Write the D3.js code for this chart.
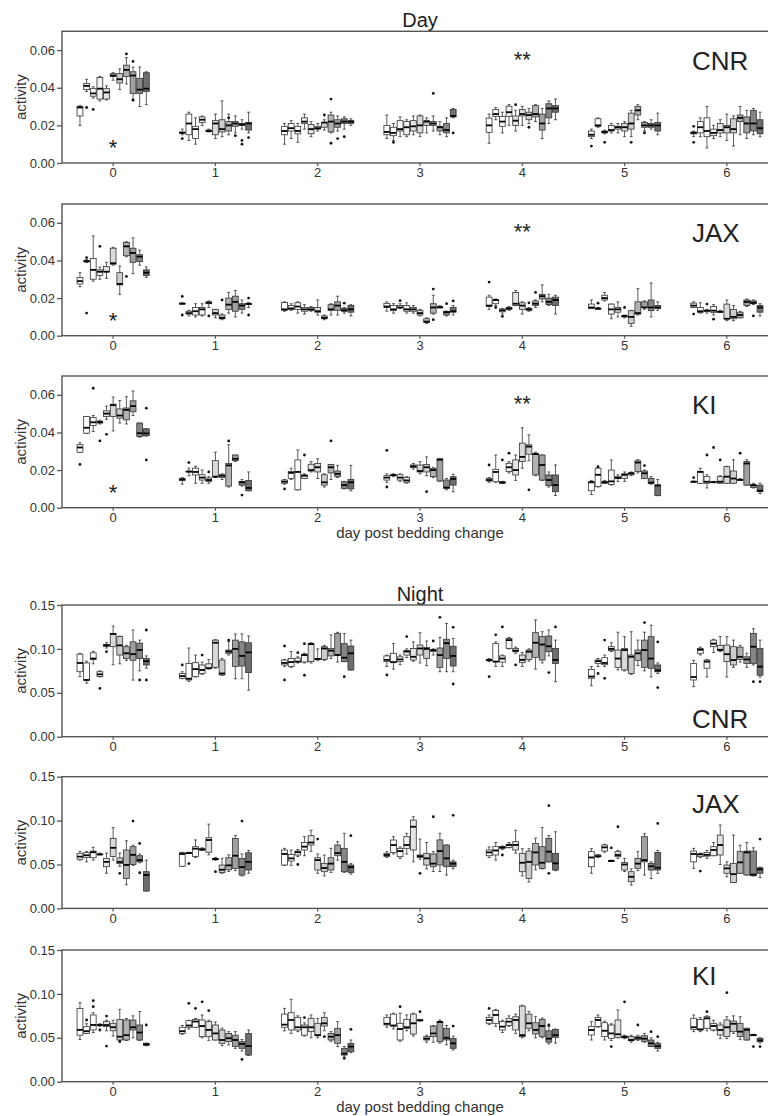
<!DOCTYPE html>
<html><head><meta charset="utf-8">
<script src="https://cdn.jsdelivr.net/npm/d3@7"></script>
<style>body{margin:0;background:#fff}svg text{font-family:"Liberation Sans",Arial,sans-serif}</style>
</head><body><svg id="c" width="768" height="1116"></svg>
<script>
const days = ["0","1","2","3","4","5","6"];
const groups = ["1","2","3","4","5","6","7","8","9","10","11"];
const groupFills = ["#ffffff","#ffffff","#fbfbfb","#f2f2f2","#e4e4e4","#d9d9d9","#cdcdcd","#b2b2b2","#a0a0a0","#868686","#6e6e6e"];
const dayTicks = [0, 0.02, 0.04, 0.06];
const nightTicks = [0, 0.05, 0.10, 0.15];
// values in units of 0.001; each box: [low whisker, q1, median, q3, high whisker, ...outliers]
const dayCNR = [
 [[20,25,29.5,30,30.5],[38,39,41,42.3,44.5,29.5],[34.5,35.5,37,39.5,40.5,28.5],[33,34,39.5,45.5,46],[33.5,34,37.5,39.5,41],[44,46,46.5,47.5,48],[39,42.5,44.5,47.5,50],[42,46,49.5,52,56,58],[33,37,46.5,48.5,51,33.5,54],[30,37,39,45,51],[31,38,39.5,48,48.5]],
 [[15,16,16,16.5,18,13],[12,15,21,26,27],[10,13,18,19.5,24],[20,21.5,23,24.5,25],[16.5,16.8,17,17.5,18],[13,15,21,22.5,26],[14,16.5,18,23,33],[15,17,20,22,26,24],[16,19.5,21,22,25,14.5],[18,20,20.5,21,23,12,10],[16,17.5,21,21.5,27,13.5]],
 [[10,15,17,19.5,21],[13,17,18.5,21,22.5],[11,15.5,17,19.5,21],[18,21,22,24,26],[14,15.5,18,20.5,22],[17,18,18.5,19.5,21],[17.5,19,21.5,21.5,23,25.5],[16,16.5,22,25.5,27,34,10.5],[17,19,21,23,25,13],[18,21,22,23.5,24.5,14],[20,21,22,22.5,23.5]],
 [[13,15,16.5,20,25.5],[12,14.5,16,19,21,11],[14,17,18,22.5,24.5],[14,15,19,22,23],[15,17,19.5,22.5,25],[14,16,20,25,25.5],[16,20,22,22.5,24],[17,20,21,22,25,37],[15,17,19,19.5,22],[14,16,17.5,21,24],[24,24.5,25,28.5,29,16]],
 [[10.5,16.3,20,23.9,26],[23,24.8,26,28.4,29.5],[16,19.5,22,24.8,27],[20,24.8,27,30.2,31],[17,20,22.5,25,28,31],[20,25,26,28.5,30],[21,23,25.5,27,29,19],[22,24.5,26,30.5,31],[13,17.5,21,26,29],[21,24,29,31.5,33],[23,27,29,30.5,34]],
 [[13,14,15,17,18,9],[19,19.5,20,23.5,24],[15.5,16,16.5,17,17.5,11],[16,17,17.5,20,21],[16,18,19,19.5,21],[14,17,19,21,22],[14,18,21,26.5,28,11],[23,25.5,28,30,31],[17,19,20,21.5,22,16],[18,19,20,21,23],[15,17,20,21.5,26.5]],
 [[14,15.5,16,16.5,17,19.5,11],[14,16,19,22,24],[8,14,17,24,30],[13,14.5,16,18,20],[14,16,17.5,21,23],[12,16,19,20,26],[9,16,18,23.5,25],[15,22,24,25.5,30],[13,16,21,24.5,28],[15,17,21,28,29],[14,15.5,18.5,23,27]]
];
const dayJAX = [
 [[26,27.5,29,31,33.5],[39,39.5,39.5,40,40.5,41.5,12],[29,30,35,41,53],[30,32,34,35,36.5,47.5],[30.5,34,34,36.8,39],[37.5,38,38.5,46.5,47],[22,27,27.5,33.5,37],[42,42.5,47.5,49.5,50,31.5],[33,39,44,46.5,52],[37.5,39.5,42,43,45.5],[31,32,33.5,35,36.5]],
 [[17,17,17,17.3,17.5,20.9,11],[10.5,11.5,12,13,13.5],[10,11,13,15,17],[10.5,11,14,15,17],[15,17,17.5,18,18.5,10.5],[9.5,11,12,14,14],[8.5,9,9.5,11,11.5,19],[12,14,16.5,20,23],[10,13,18,21,24],[12,14,16,17,19],[15,16.5,17,17,17.5,20,11]],
 [[13,13.5,14,17.7,18],[13.5,14,14.5,16,17],[12,14,15.5,17.5,18],[11.5,13,14,15,16.5],[13,13.5,14,15,15.5],[11,12.5,13,15,19],[8.5,9,9.5,10.5,11],[11,13.5,14,16.5,17],[11,13.5,16,18,21],[12,13,13.5,14.5,15,17.3],[10.5,12.5,14,16,16.5]],
 [[13,15,15.5,17.2,18],[12,13.3,14,16,17],[14.5,15,15,16,17,18.6],[12,13,14,16,17.5],[12,13,14,15,16],[10.5,11,12,13.5,14],[6.5,7,7.5,9,9.5],[11.5,12,15,17,21.5,24.8,8.5],[15,15,15,15.5,16],[10.5,11,12.5,13,13,17],[11,12.5,13,15,16,18.5]],
 [[14,15.5,16,20.5,21.5,28.5],[16,17,19,19,19.5,15],[11.5,12.7,13.5,14.2,14.5,10.3],[13.5,14,14.5,15,15.5],[16,16,17,23,24],[11.5,14,16,17.5,18],[13,13.5,14,14.5,15,17.5],[15,16,17,18.5,19,23],[18,19.5,21,22,27],[16,16.5,18,20,22],[11.5,16,19,20.5,21.5]],
 [[14.5,14.5,15,16.8,19],[14,14,14.5,14.5,15,17.3],[18.5,19,20,21.5,23],[9,11.5,14,16.8,16.8],[10,12.5,14,15,18],[9.5,10,10.5,10.5,11,15],[5,6.5,10,13.3,13.5],[11,11.5,12,18,25],[14,15,15,18,18.5],[10,13.3,15,19,28],[13.5,14.5,15,16,18]],
 [[15,15,16,17.3,18,11.5],[12,12.4,13,15,17.5],[12,13,13.3,13.5,14,16.8],[11,12.4,13.3,15.5,16.5,8.8],[12.5,12.5,12.7,13,13.5],[8,9,9,16.8,19],[8,9,10,14,16],[9.5,9.5,11,12.5,13],[15.5,16,18,19,19.5],[16.5,17,17.5,18.5,19,10.5],[10.5,12.5,15,16,17]]
];
const dayKI = [
 [[29.5,29.5,32,33.5,34.5,23],[39.5,39.6,42.5,48.5,48.5],[40.5,43.7,45.4,48,49,63.5],[44.5,45,45.5,46,46.5,35.5],[47,48.5,50,51.5,54,39],[40.8,48.5,54.5,55,58.8],[45,47.6,49,52.5,57],[44.5,46.7,52,53,59],[49,51,54,56.8,62],[37.5,37.8,39.6,45,45],[38,38.3,39.5,41.9,42,52.9,25.4]],
 [[12.5,14.5,15,15.6,16],[17,19,19.2,19.4,21,24],[13,17.4,19,21,22],[13,14.7,16,17.5,20],[13,14,14.7,15.8,16.5,19],[16,16.5,16.5,25,29.5],[15,16,17,17.5,18],[11,11.5,22.5,23.5,33.5,35.5],[24.5,25,26,28,28],[11.5,12,13.5,14,15,6.7],[9,9,10.5,14.5,19]],
 [[12.5,13,13.8,14.7,15,10],[15,15.6,18.5,19.2,21],[9.5,9.5,19,25.4,30.7],[15.5,15.6,17,17.4,18,28],[19,19.5,20,23.1,24.5],[15.5,19,21.5,23.5,26],[11,12,13.5,17.5,18],[15,18.5,21.5,23,23,35.5],[16,16.5,18,19.5,22.5],[10,10.3,12,13.8,14],[9,10,13.5,15,22.5]],
 [[13.5,14.7,16,17,18,30.5,11],[16.5,17,17.4,17.4,18],[14,14.7,16,17.5,18],[13,13.5,14.5,16,16.5],[20.5,21.3,22,22.7,23.5],[18,19,19.5,22.7,24.5],[17,19,21.5,23,27,8.5],[16,16.5,20,20.8,21.5],[14,14.2,25.5,26,26],[9.5,10.3,10.7,14.7,15.5],[8.5,12,15.3,16.5,17.8]],
 [[13.5,14.2,14.7,15.6,16,22.7],[13.5,13.8,19,20.4,28],[13,13,13.4,13.8,14,25.4],[18.5,19.2,21.5,23.6,24.5,29],[14.5,17.4,20,25.4,28],[21,24.5,27,34.3,42.5],[25,28.4,32.5,33.4,38.7,9.5],[17,17.4,28.5,28.9,29.5],[14.5,14.7,22.7,28,28],[11,11.7,14.7,17.4,19],[6.5,8.5,12,17.4,22.7]],
 [[7,9,13.5,13.8,14.5],[11,11.2,17.5,21,21.3,21.8],[13,13,13.5,14,14.5],[12,12.4,14,20,25.4],[14,15.5,15.8,16.5,17.5],[14,15.5,17.5,18,19],[17,17.5,18.3,18.5,19],[18.5,19.2,24,24.9,25.5],[15.5,15.6,18.3,19.5,20,22.4],[12.5,13,13.3,15.6,16.5],[6.4,6.4,11.8,12.1,15]],
 [[13.5,13.6,13.8,14,14.2,16],[13,13,19,19.2,21],[10.5,13,13.8,16.5,17.5,28],[13.2,13.5,13.6,13.8,14,32],[13,13,13.8,16.5,17,25.4],[13,13,16.5,21.8,22],[13,13,15.5,19.5,25.5],[14.5,14.7,14.8,15,15.5,29],[12,12,23.5,24.5,25.5],[10.5,10.7,12,12.1,13],[7.5,8.5,9,12,13]]
];
const nightCNR = [
 [[68.5,74,84,94,95],[61,64.5,64.6,84,86],[83,88,89,95.5,97],[68,68.5,71,74,75,55],[101,103,104,105,107,96.8],[82,102.5,117,117.5,126],[83,93,104,114,114.5],[87,89,95,102.5,104],[64.5,87,94,108,121.5],[75,89,98.7,106.5,110,64.6],[78,81.7,86,89.2,92,121.5,64.6]],
 [[66,66.5,69,72,74,81.7],[63,64.6,66,83.5,101],[68,68.4,77,84.3,93],[71,72,76,81.7,85,93],[77,78,78,83,88],[78,79,107,110,110.5],[70,70.3,72,87.3,89],[93,95,97,98.7,108.5,110],[66,80,100,110,117],[66,80.5,92,108,117],[53,73,96,107,114.7]],
 [[80,81.7,84,87.3,88,103.3,64.6],[79,80,85,89,97],[84,85.5,85.5,89.5,91,95.7],[84,85,93,94,95,106,70],[84,85.5,105.5,106,107],[87,88,88.5,89,100],[87,88,100.5,102.5,104],[89,92,98,100.5,116],[85,93,93,117.7,118.9],[85.5,85.5,90,106,117.5,68.4],[76,76,95,103.3,110]],
 [[80,85.5,87.5,92,93,70.3],[77,84.3,85,95,106],[82,85.5,88,91,93],[90,93,97,98,100,114],[86,87.3,91,100.5,108],[84,93,100.5,104.4,118.5],[81,89,100,101.5,109],[93,97,98.7,98.7,100,109],[74,79,93,101,113,136],[74,89,106.5,111,129],[74,80.5,92,103,112,124.6,60]],
 [[85.5,87,87.3,87.5,89,68.4],[80,85.5,85.5,106,108,116],[80,85,89,92,93,125],[100,100.6,110,112,113],[95,96.8,98,100.6,102,81.7],[80,84.3,87.5,93,96],[86,88,96.8,98.7,100],[77,90.4,107,118.5,133],[84,87.3,105,114,119.6],[92,96.8,103,114.7,121.5,73],[62.7,83.5,87.5,100.6,110,125]],
 [[58,66.5,68.5,76.7,80],[80,83.5,86,87.3,89,72],[80,82,84,90,93,110,66.5],[97,98,100,102.5,107],[76,79,89,98.7,119],[75,76,98.7,100.6,114],[71,72,91,93,119.6],[81,87,95,98.7,110],[75,79,98.7,110,119,130],[68,77.9,89,114,127],[72,74,75.5,81.7,84,108,56]],
 [[57,64.6,68,83.5,87],[93,95,99,100.6,102],[68,78,85.5,87.3,88],[96,102.5,106,110,111],[97,98,99,104,114],[68,85.5,94,104.4,114],[79,81.7,87.3,102.5,110],[85,88,91,102,104],[79,83.5,88,91,95],[81.7,83.5,102.5,117.7,123,62.7],[68,70,79.8,100.6,110,62.7]]
];
const nightJAX = [
 [[55,56,59,62.7,65],[53,58,60.5,63.5,65],[55,57.7,64,65.3,69.5],[61,61.3,61.5,62,63],[40,47.5,53,57,63],[55,59,69,79.8,92],[48,51,53,57.5,63,40],[27,34,49.5,66.5,77],[49,50,61,70.3,72,99.5],[52,53,55,60,62,74,40.6],[19.8,19.8,38,41.8,55]],
 [[48,48,62,63.5,64],[62.5,62.7,63,63.5,64,51],[58,59,68,70.3,78],[66,66.5,67.2,68,69],[61,64,77.9,80.5,96],[55,55.5,56.2,57,58,41.8],[40,41,44,49.4,57],[42,44,49,57.7,61],[43,45.6,60,79.8,83],[37,38,47,57,62,99.5],[40,43.7,53,63.4,66]],
 [[49,49.4,62,66.5,68.4],[49,54,57,61.5,66.5],[59,60.8,64,65.3,67,50],[60,66.5,70.3,75.2,81.7],[65,72.2,75,82.8,89],[40,43.7,55,57.7,62,79],[37,41.8,46,51.3,60.8],[41,43.7,51,57.7,68.4],[55,60,63,72.2,76],[41,41.8,53,68.4,85.5],[39,41,47,49.4,51,82.8]],
 [[58,59,60.8,62.7,64.6],[62,63.8,72.2,77.9,81.7],[57,58.9,65.3,68.4,70],[62,68.4,72.2,81.7,85.5],[53,66.5,93,100.6,104.4],[56,58,59.5,60.8,79,40],[45,49.4,57,62.7,75],[42,47.5,51,62,64.6,104.4],[42,49.4,65.3,78,85.5],[38,47.5,57,72.2,72.2],[45,47.5,51,53,55,106]],
 [[58,60,63.8,66.5,70],[55,60.8,66,70.3,75],[67,68.4,69.5,70.3,71,60.8],[69,69.5,72.2,73,75],[63,66.5,72.2,76,89],[37,41.8,52,62.7,68],[30,34,53,65.3,68],[44,49.4,63.8,74,80],[45,45.6,52,70.3,92],[53,53,64.6,79.8,83,117,40],[43,43.7,51.3,62.7,87.3]],
 [[40,47.5,58,64.6,68],[58,58.9,59.5,60.8,61.5],[64,65.3,69.5,72.2,73],[53.5,53.5,54,54.5,55,69],[57,58.9,60.8,64.6,66,93],[42,43.7,50,52.4,57],[26.6,30.4,36,41.8,45],[43,45.6,51,57,64.6],[38,53,55,81.7,85],[34,43.7,48,51.3,53],[40,43.7,46.3,63.8,66,96.8]],
 [[45.6,53,62,65.3,68.4],[58,58.9,61.5,62,63,42.5],[57,59.5,61,63.8,66],[60,60,66.5,70.3,75],[50,60.8,72.2,83.5,95],[36,40,45.6,49.4,53],[29.6,29.6,39,51.3,83.5],[40,40,52.4,64.6,72],[38,38,63.8,65.3,75],[37,37.2,38.5,65.3,69],[35,40,44.5,46.3,47,79]]
];
const nightKI = [
 [[48,53,59,83.5,90],[55,55,57.5,62.7,66,70.3],[56,58.9,64.6,76,78.6,85.5,92.3],[63,64,64.6,65,66,58.9],[58,62.7,64.5,68.4,70,74.8,40.6],[52,58,62,66.5,70],[47,47.5,51.3,71,82.4,45.6],[47,47.5,53,70.3,72],[50,58.9,62,70.3,75],[47,47.5,56,64.6,79.8],[41,41.5,42.5,43.7,44,64.6]],
 [[54,55,57.5,62,64],[60,62,64,69.5,70,89.3],[62,62,68.5,71,72,83.5],[50,51.3,63.4,70.3,76,91],[47,51.3,59,68.4,70,81],[47.5,47.5,55,64.6,68],[41,43.7,47.5,58.9,61],[42,45.6,49.5,55,57],[38,40,47.5,53,57],[35,38,43,45.6,48,25.4],[30,30.4,40.6,55,58.9]],
 [[58,62,65,77,83.5],[55,58.9,70.3,78.6,93.8],[57,58.9,62,73.3,75],[52,53,62,64.6,67,73],[50,57,62,72.2,76],[50,52.4,53,66.5,72],[58,63.4,66.5,73.3,78.6,51.3],[46,47.5,51.3,55,57],[40,43.7,53,60.8,68.4],[29,30.4,32,38,40,26.6],[33,34.2,40,43.7,47.5,59.6]],
 [[62,64.6,66,73.3,76],[60,63.4,64,77,78],[46,47.5,60,66.5,78,85.5],[58,60.8,62,71,76],[52,54.3,66.5,77,78],[69,69.5,70,70.3,71,79.8],[45,47.5,49,51.3,53],[45,51.3,55,63.4,64],[44,45.6,68,68.4,70.3],[42,47.5,50,60.8,64],[36,38,43.7,49.4,52,63.4]],
 [[65,66.5,70.3,73.3,76,83.5],[63,66.5,76,81,82.4],[56,58.9,62.7,68.4,70],[63,64,68.4,72,75],[55,58.9,70.3,74,77],[50,51.3,53,86.2,87],[58,60.8,66.5,77,80],[50,54.3,59,67.2,74],[50,51.3,63.4,71,72.5],[43,45,49,58,63,64.6],[44,50.5,53,59.6,60]],
 [[47.5,53.2,58.9,62.7,68.4],[62,62.7,70.3,73.3,76],[47.5,51.3,58,67.2,69],[47,49.4,55,64.6,66,40],[50,50.5,54,70.3,81.7],[49,50,51,52,53,91],[45,46.7,47.5,51.3,53],[47,48,50,51,53,64.6],[45,46,49,52.4,55],[40,40,43.7,47.5,50,57],[35,38,40.5,43.7,45,51.3]],
 [[57,59.6,62,72.2,76],[57,58.9,59.6,71,73],[58,60.8,72.2,74,75,79.8],[58,58.9,63.5,66.5,70],[49,53.2,58.9,64.6,67],[49,51.3,62,70.3,74,101.4],[55,57,66,69,75],[48,51.3,57,66.5,74],[47.5,47.5,59,60.8,61],[52.5,53,53.2,53.5,54,40],[44,45.6,47,49.4,50,40]]
];
const panelNames = ["CNR","JAX","KI","CNR","JAX","KI"];
const sectionTitles = ["Day","Night"];
const starMarks = [{day:"0", text:"*", value:0.011},{day:"4", text:"**", value:0.058}];

const svg = d3.select("#c");
const FONT = '"Liberation Sans", Arial, sans-serif';
const left = 62, plotW = 716, plotH = 131.7;
const x = d3.scaleBand().domain(days).range([left, left + plotW]);
const xg = d3.scaleBand().domain(groups).range([-36.5, 36.5]);
const fill = d3.scaleOrdinal().domain(groups).range(groupFills);

const panels = [
 {data: dayCNR, name: panelNames[0], top: 31.3, max: 0.07, ticks: dayTicks, labelY: 70, stars: true},
 {data: dayJAX, name: panelNames[1], top: 204, max: 0.07, ticks: dayTicks, labelY: 242, stars: true},
 {data: dayKI, name: panelNames[2], top: 376, max: 0.07, ticks: dayTicks, labelY: 414, stars: true, xTitle: true},
 {data: nightCNR, name: panelNames[3], top: 605, max: 0.15, ticks: nightTicks, labelY: 728},
 {data: nightJAX, name: panelNames[4], top: 776.7, max: 0.15, ticks: nightTicks, labelY: 813},
 {data: nightKI, name: panelNames[5], top: 950, max: 0.15, ticks: nightTicks, labelY: 985, xTitle: true}
];

svg.append("text").attr("x", left + plotW/2).attr("y", 26.5).attr("text-anchor","middle")
  .attr("font-size", 20).attr("fill","#222").text(sectionTitles[0]);
svg.append("text").attr("x", left + plotW/2).attr("y", 600.5).attr("text-anchor","middle")
  .attr("font-size", 20).attr("fill","#222").text(sectionTitles[1]);

panels.forEach(p => {
  const y = d3.scaleLinear().domain([0, p.max]).range([p.top + plotH, p.top]);
  const g = svg.append("g");
  g.append("rect").attr("x", left).attr("y", p.top).attr("width", plotW).attr("height", plotH)
    .attr("fill","none").attr("stroke","#555").attr("stroke-width",1.4);

  const ya = g.append("g").attr("transform",`translate(${left},0)`)
    .call(d3.axisLeft(y).tickValues(p.ticks).tickFormat(d3.format(".2f")).tickSize(5).tickPadding(2));
  ya.select(".domain").remove();
  ya.selectAll("line").attr("stroke","#555").attr("stroke-width",1.3);
  ya.selectAll("text").attr("font-size",13).attr("fill","#333").attr("font-family",FONT);

  const xa = g.append("g").attr("transform",`translate(0,${p.top + plotH})`)
    .call(d3.axisBottom(x).tickSize(3).tickPadding(2));
  xa.select(".domain").remove();
  xa.selectAll("line").attr("stroke","#555").attr("stroke-width",1.2);
  xa.selectAll("text").attr("font-size",13).attr("fill","#333").attr("font-family",FONT);

  g.append("text").attr("transform",`translate(26,${p.top + plotH/2}) rotate(-90)`)
    .attr("text-anchor","middle").attr("font-size",15).attr("fill","#333").text("activity");

  if (p.xTitle) {
    g.append("text").attr("x", left + plotW/2).attr("y", p.top + plotH + 30)
      .attr("text-anchor","middle").attr("font-size",15).attr("fill","#333").text("day post bedding change");
  }

  g.append("text").attr("x", 692).attr("y", p.labelY).attr("font-size", 26).attr("fill","#222").text(p.name);

  const bw = xg.bandwidth();
  p.data.forEach((dayBoxes, di) => {
    dayBoxes.forEach((b, gi) => {
      const s = b.slice(0,5).map(v => v/1000).sort((a,c) => a - c);
      const outs = b.slice(5).map(v => v/1000);
      const x0 = x(days[di]) + x.bandwidth()/2 + xg(groups[gi]);
      const cx = x0 + bw/2;
      const bg = g.append("g");
      const capW = bw * 0.45;
      bg.append("line").attr("x1",cx).attr("x2",cx).attr("y1",y(s[4])).attr("y2",y(s[3]))
        .attr("stroke","#333").attr("stroke-width",0.8);
      bg.append("line").attr("x1",cx).attr("x2",cx).attr("y1",y(s[1])).attr("y2",y(s[0]))
        .attr("stroke","#333").attr("stroke-width",0.8);
      bg.append("line").attr("x1",cx-capW/2).attr("x2",cx+capW/2).attr("y1",y(s[4])).attr("y2",y(s[4]))
        .attr("stroke","#333").attr("stroke-width",0.8);
      bg.append("line").attr("x1",cx-capW/2).attr("x2",cx+capW/2).attr("y1",y(s[0])).attr("y2",y(s[0]))
        .attr("stroke","#333").attr("stroke-width",0.8);
      bg.append("rect").attr("x", x0 + 0.4).attr("width", bw - 0.8)
        .attr("y", y(s[3])).attr("height", Math.max(0.8, y(s[1]) - y(s[3])))
        .attr("fill", fill(groups[gi])).attr("stroke","#333").attr("stroke-width",0.8);
      bg.append("line").attr("x1", x0 + 0.4).attr("x2", x0 + bw - 0.4)
        .attr("y1", y(s[2])).attr("y2", y(s[2])).attr("stroke","#000").attr("stroke-width",1.8);
      outs.forEach(o => {
        bg.append("circle").attr("cx", cx).attr("cy", y(o)).attr("r", 1.4).attr("fill","#111");
      });
    });
  });

  if (p.stars) {
    starMarks.forEach(st => {
      g.append("text").attr("x", x(st.day) + x.bandwidth()/2).attr("y", y(st.value) + 0.58*22)
        .attr("text-anchor","middle").attr("font-size",22).attr("fill","#222").text(st.text);
    });
  }
});
</script></body></html>
